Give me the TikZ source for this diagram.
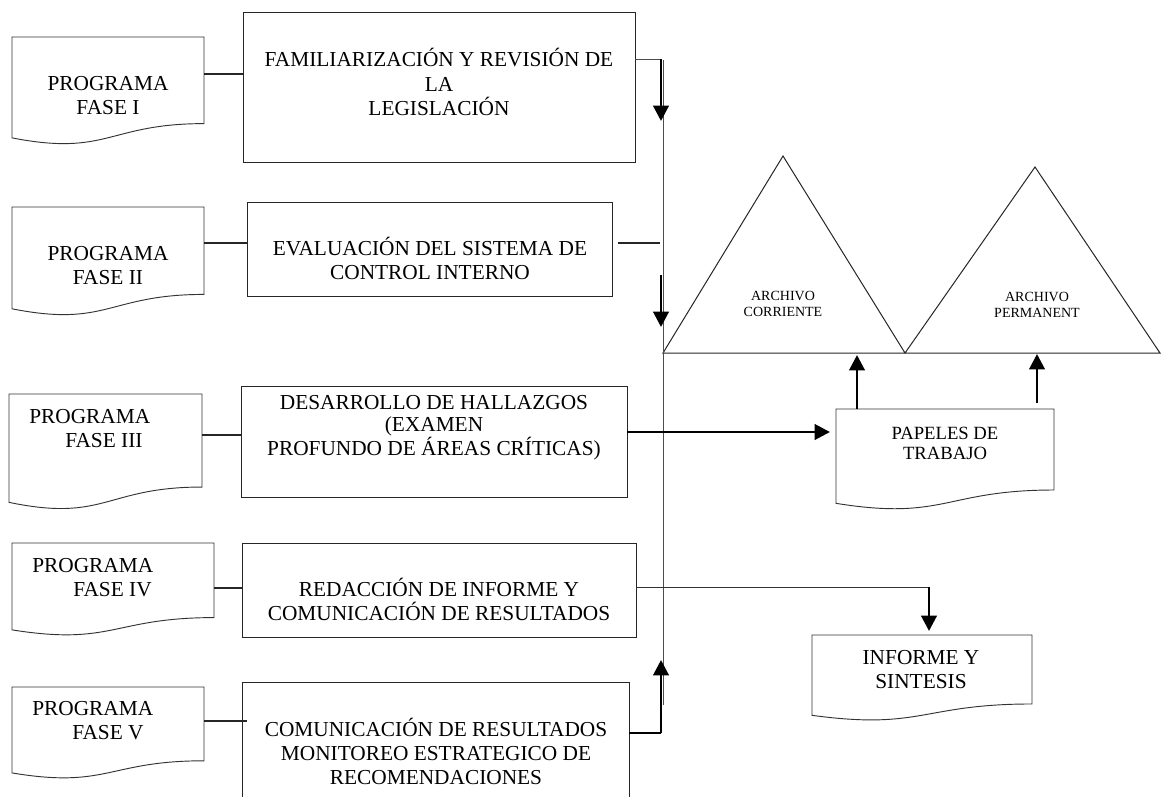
\documentclass[tikz,border=0pt]{standalone}
\usepackage{fontspec}
\setmainfont{Liberation Serif}
\usetikzlibrary{arrows.meta,calc}
\newcommand{\docoutline}[1]{\draw[docline] (#1.north west) -- (#1.north east) -- ($(#1.north east)!0.802!(#1.south east)$) .. controls ($(#1.north)!0.802!(#1.south)$) and ($(#1.north)!1.1075!(#1.south)$) .. ($(#1.north west)!0.934!(#1.south west)$) -- cycle;}
\begin{document}
\begin{tikzpicture}[x=0.75pt,y=-0.75pt,
  box/.style={draw=black!85, line width=0.7pt, inner sep=0, outer sep=0, anchor=north west},
  docnode/.style={inner sep=0, outer sep=0, anchor=north west},
  docline/.style={draw=black!80, line width=0.7pt},
  txt/.style={font=\fontsize{16}{18}\selectfont, align=center, inner sep=0},
  ltxt/.style={font=\fontsize{16}{18}\selectfont, align=left, inner sep=0, anchor=west},
  smalltxt/.style={font=\fontsize{10.5}{12.5}\selectfont, align=center, inner sep=0},
  conn/.style={line width=1.2pt, draw=black!85},
  thinline/.style={line width=0.75pt, draw=black!70},
  medline/.style={line width=1.5pt, draw=black},
  thickarrow/.style={line width=2.2pt, draw=black, -{Triangle[width=11.5pt,length=11.5pt]}},
  triline/.style={line width=0.75pt, draw=black!85}
]
\fill[white] (0,0) rectangle (1163,796);
\useasboundingbox (0,0) rectangle (1163,796);

% ---- process boxes ----
\node[box, minimum width=294pt, minimum height=112.5pt] (b1) at (243,12) {};
\node[box, minimum width=273.75pt, minimum height=70.5pt] (b2) at (247,202) {};
\node[box, minimum width=289.5pt, minimum height=83.25pt] (b3) at (241,386) {};
\node[box, minimum width=295.5pt, minimum height=70.5pt] (b4) at (242,543) {};
\node[box, minimum width=290.25pt, minimum height=88.5pt] (b5) at (242,682) {};

\node[txt, font=\fontsize{16}{18.4}\selectfont] (b1t) at (439,82) {FAMILIARIZACIÓN Y REVISIÓN DE\\LA\\LEGISLACIÓN};
\node[txt] (b2t) at (430,258) {EVALUACIÓN DEL SISTEMA DE\\CONTROL INTERNO};
\node[txt, font=\fontsize{16}{16.2}\selectfont] (b3t) at (434,428) {DESARROLLO DE HALLAZGOS\\(EXAMEN\\PROFUNDO DE ÁREAS CRÍTICAS)};
\node[txt] (b4t) at (439,599) {REDACCIÓN DE INFORME Y\\COMUNICACIÓN DE RESULTADOS};
\node[txt] (b5t) at (436,751) {COMUNICACIÓN DE RESULTADOS\\MONITOREO ESTRATEGICO DE\\RECOMENDACIONES};

% ---- program documents ----
\node[docnode, minimum width=144pt, minimum height=81pt] (d1) at (12,37) {};
\node[docnode, minimum width=144pt, minimum height=81.75pt] (d2) at (12,207) {};
\node[docnode, minimum width=144.75pt, minimum height=87pt] (d3) at (9,394) {};
\node[docnode, minimum width=151.5pt, minimum height=69.75pt] (d4) at (12,543) {};
\node[docnode, minimum width=144pt, minimum height=69pt] (d5) at (12,687) {};
\docoutline{d1}
\docoutline{d2}
\docoutline{d3}
\docoutline{d4}
\docoutline{d5}

\node[txt] (d1t) at (108,96) {PROGRAMA\\FASE I};
\node[txt] (d2t) at (108,266) {PROGRAMA\\FASE II};
\node[ltxt] (d3t) at (29,429) {PROGRAMA\\\hspace*{27pt}FASE III};
\node[ltxt] (d4t) at (32,578) {PROGRAMA\\\hspace*{30.75pt}FASE IV};
\node[ltxt] (d5t) at (32,721) {PROGRAMA\\\hspace*{30pt}FASE V};

% ---- output documents ----
\node[docnode, minimum width=163.5pt, minimum height=75.75pt] (pap) at (836,409) {};
\node[docnode, minimum width=165pt, minimum height=64.5pt] (inf) at (812,635) {};
\docoutline{pap}
\docoutline{inf}
\node[txt, font=\fontsize{14}{15}\selectfont] (papt) at (945,443) {PAPELES DE\\TRABAJO};
\node[txt] (inft) at (921,670) {INFORME Y\\SINTESIS};

% ---- archive triangles ----
\coordinate (t1l) at (663,353);
\coordinate (t1a) at (783,156);
\coordinate (t1r) at (905,353);
\coordinate (t2a) at (1035,167);
\coordinate (t2r) at (1160,353);
\draw[triline] (t1l) -- (t1a) -- (t1r) -- (t2a) -- (t2r) -- cycle;
\node[smalltxt] (t1t) at (783,304) {ARCHIVO\\CORRIENTE};
\node[smalltxt] (t2t) at (1037,305) {ARCHIVO\\PERMANENT};

% ---- program -> phase connectors ----
\draw[conn] (d1.east |- 0,74) -- (b1.west |- 0,74);
\draw[conn] (d2.east |- 0,243) -- (b2.west |- 0,243);
\draw[conn] (d3.east |- 0,435) -- (b3.west |- 0,435);
\draw[conn] (d4.east |- 0,588) -- (b4.west |- 0,588);
\draw[conn] (d5.east |- 0,721) -- ([xshift=3.75pt]b5.west |- 0,721);

% ---- central flow line ----
\coordinate (vtop) at (663,60);
\coordinate (vbot) at (663,705);
\draw[thinline] (vtop) -- (vbot);

\coordinate (c1) at (661,59);
\coordinate (c1e) at (661,121);
\draw[thinline] (b1.east |- c1) -- (c1);
\draw[thickarrow] (c1) -- (c1e);

\coordinate (c2s) at (618,243);
\coordinate (c2e) at (660,243);
\draw[thinline, draw=black!85, line width=1pt] (c2s) -- (c2e);
\coordinate (c2a) at (661,275);
\coordinate (c2b) at (661,327);
\draw[thickarrow] (c2a) -- (c2b);

\coordinate (c3) at (830,432);
\draw[thickarrow] (b3.east |- c3) -- (c3);

\coordinate (c4) at (929,587);
\coordinate (c4e) at (929,631);
\draw[thinline, draw=black!80] (b4.east |- c4) -- (c4);
\draw[thickarrow] (c4) -- (c4e);

\coordinate (c5) at (661,733);
\coordinate (c5e) at (661,660);
\draw[medline] (b5.east |- c5) -- (c5);
\draw[thickarrow] (c5) -- (c5e);

% ---- papeles -> archives ----
\coordinate (a1) at (857,355);
\coordinate (a2s) at (1037,403);
\coordinate (a2) at (1037,354);
\draw[thickarrow] (pap.north -| a1) -- (a1);
\draw[thickarrow] (a2s) -- (a2);
\end{tikzpicture}
\end{document}
